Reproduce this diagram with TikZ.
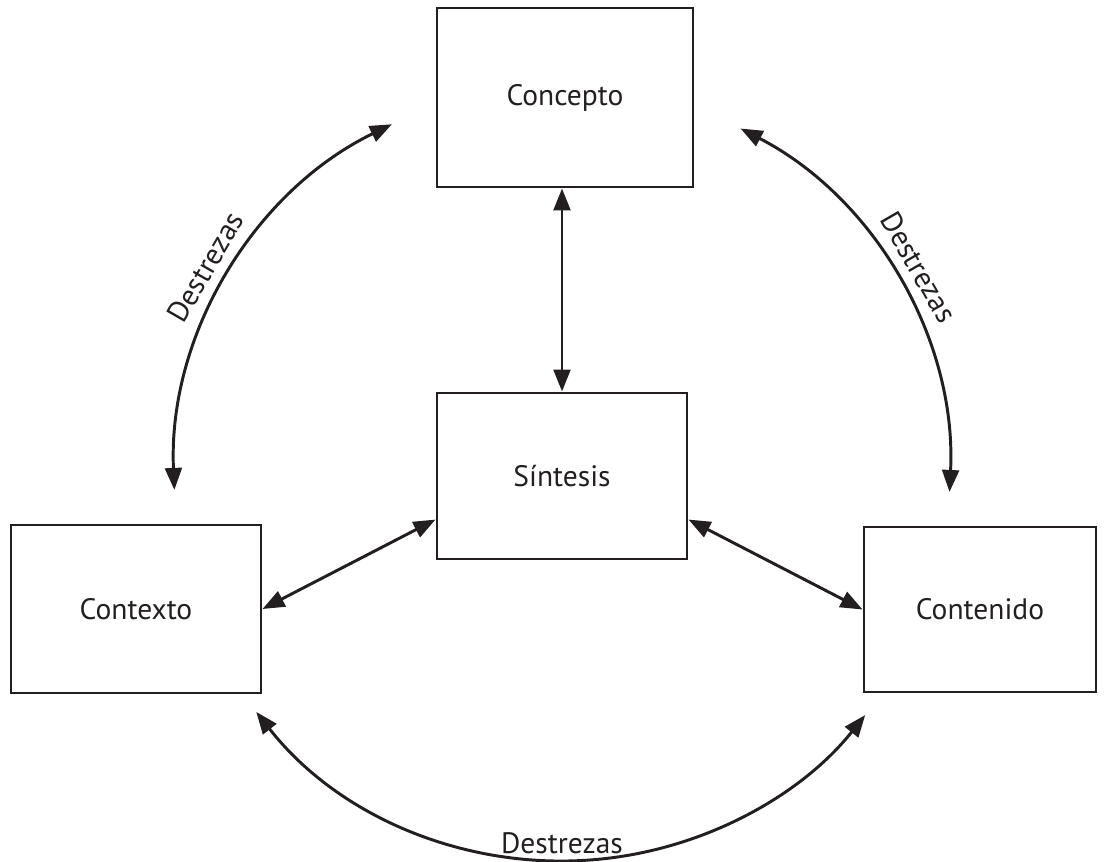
\documentclass[tikz,border=0pt]{standalone}
\usepackage{fontspec}
\setmainfont{PT Sans}
\usepackage{tikz}
\usetikzlibrary{positioning}
\usetikzlibrary{calc}
\usetikzlibrary{arrows.meta}
\definecolor{ink}{HTML}{231F20}

\begin{document}
\begin{tikzpicture}[
  every node/.style={text=ink, font=\fontsize{21}{25}\selectfont},
  box/.style={draw=ink, line width=2.1pt},
  link/.style={draw=ink, line width=2.1pt, {Triangle[length=5.5mm,width=4.2mm]}-{Triangle[length=5.5mm,width=4.2mm]}}
]
  \useasboundingbox (0,0) rectangle (27.6,21.525);

  \node[box, minimum width=6.4cm,  minimum height=4.475cm] (CON) at (14.125,19.0875) {Concepto};
  \node[box, minimum width=6.25cm, minimum height=4.15cm]  (SIN) at (14.05,9.625)    {Síntesis};
  \node[box, minimum width=6.25cm, minimum height=4.2cm]   (CTX) at (3.4,6.3)        {Contexto};
  \node[box, minimum width=5.8cm,  minimum height=4.125cm] (CTN) at (24.5,6.2875)    {Contenido};

  \draw[link] (SIN.north |- CON.south) -- (SIN.north);
  \draw[link] (CTX.east) -- (SIN.199);
  \draw[link] (SIN.-19) -- (CTN.west);

  % skills ring round the synthesis box
  \coordinate (O) at (14.05,9.7);
  \draw[link] ($(O)+(116:9.7)$) arc[start angle=116, end angle=182.5, radius=9.7cm];
  \draw[link] ($(O)+(62.6:9.7)$) arc[start angle=62.6, end angle=-2.8, radius=9.7cm];
  \draw[link] ($(O)+(218:9.7)$) arc[start angle=218, end angle=321.4, radius=9.7cm];

  \node[rotate=60, inner sep=0pt]  (DL) at ($(O)+(150:10.3)$) {Destrezas};
  \node[rotate=-60, inner sep=0pt] (DR) at ($(O)+(30:10.3)$)  {Destrezas};
  \node[inner sep=0pt]             (DB) at ($(O)+(-90:9.25)$) {Destrezas};
\end{tikzpicture}
\end{document}
